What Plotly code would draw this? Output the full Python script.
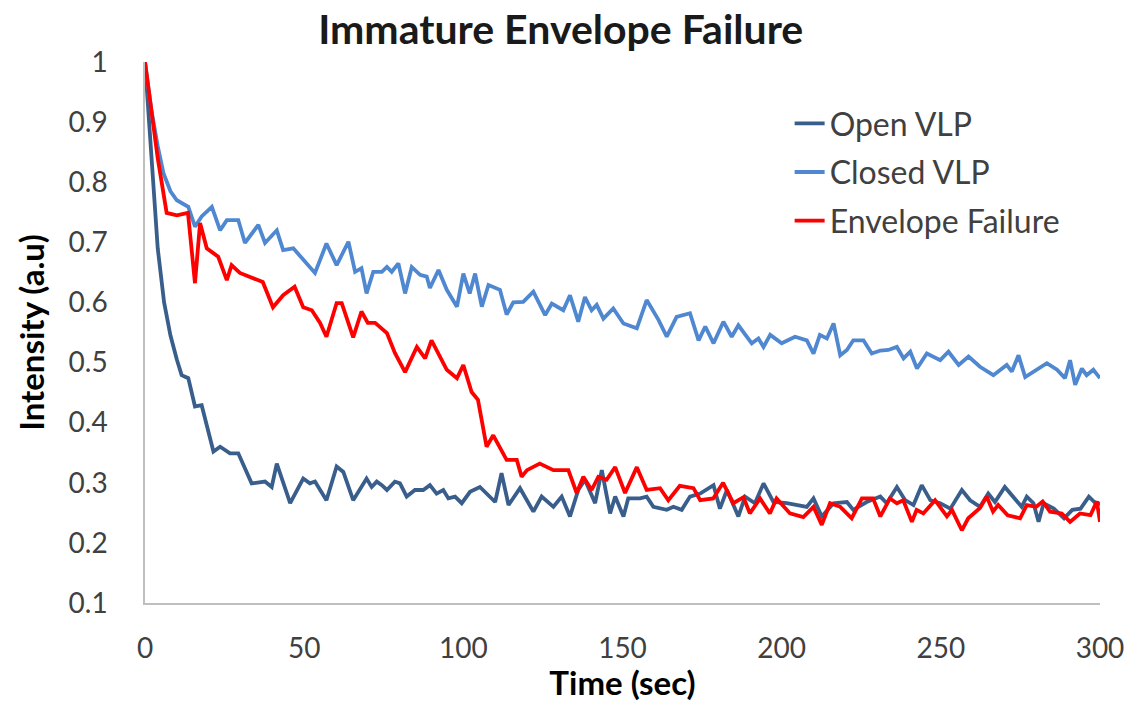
import plotly.graph_objects as go

# Fluorescence intensity traces (normalised) versus time in seconds
open_time = [0, 2, 4, 6, 8, 10, 11.5, 13.6, 15.7, 17.8, 21.5, 23.6, 26.7, 29.3, 33.5, 37.7, 39.8,
             41.4, 45.6, 49.7, 51.8, 53.4, 57, 60.2, 62.3, 65.4, 69.6, 71.2, 72.8, 74.4, 76, 78.5,
             80.1, 82.2, 84.8, 87.4, 89.5, 91.6, 93.7, 95.3, 97.4, 99.5, 102.1, 105.2, 107.3, 110,
             112, 114.2, 117.8, 122, 124.6, 128.3, 130.9, 133.5, 136.1, 138.2, 141.4, 143.5, 146.1,
             147.7, 150.3, 151.8, 155.5, 157.6, 159.7, 163.9, 166, 168.6, 171.2, 174.4, 178.6,
             180.6, 182.8, 186.4, 188.5, 191.6, 194.3, 197.4, 201.6, 207.9, 210, 212.6, 216.3,
             220.5, 222.5, 226.7, 231, 233, 236.2, 238.8, 241.4, 244, 246.7, 249.8, 253, 256.6,
             259.2, 262.3, 264.9, 267, 270.1, 272.7, 275.4, 277, 279.1, 280.7, 282.3, 285.5, 288.7,
             291.3, 293.9, 296.5, 299.2, 300]
open_vlp = [1.0, 0.84, 0.69, 0.6, 0.545, 0.505, 0.479, 0.474, 0.427, 0.429, 0.352, 0.36, 0.349,
            0.349, 0.299, 0.302, 0.293, 0.332, 0.266, 0.307, 0.299, 0.302, 0.271, 0.327, 0.318,
            0.271, 0.307, 0.293, 0.302, 0.296, 0.288, 0.302, 0.299, 0.277, 0.288, 0.288, 0.296,
            0.282, 0.288, 0.274, 0.277, 0.266, 0.285, 0.293, 0.282, 0.268, 0.316, 0.263, 0.291,
            0.252, 0.277, 0.26, 0.277, 0.244, 0.288, 0.305, 0.266, 0.321, 0.249, 0.277, 0.244,
            0.274, 0.274, 0.277, 0.26, 0.255, 0.26, 0.255, 0.277, 0.282, 0.296, 0.257, 0.288,
            0.244, 0.277, 0.266, 0.299, 0.268, 0.266, 0.26, 0.274, 0.244, 0.266, 0.268, 0.255,
            0.268, 0.277, 0.266, 0.293, 0.271, 0.263, 0.296, 0.271, 0.266, 0.257, 0.288, 0.271,
            0.26, 0.282, 0.268, 0.293, 0.277, 0.26, 0.277, 0.266, 0.235, 0.266, 0.257, 0.241,
            0.255, 0.257, 0.277, 0.263, 0.268]

closed_time = [0, 2, 4, 5.8, 8, 10, 13.6, 15.7, 17.8, 21, 23.6, 25.7, 29.3, 31.4, 35.6, 37.7,
               41.4, 43.4, 46.6, 53.4, 57, 60.2, 63.9, 66, 68, 69.6, 71.7, 74.4, 76, 77.5, 79.6,
               81.7, 83.8, 86.4, 88.5, 89.5, 92.2, 94.8, 98, 100, 102, 103.7, 105.8, 107.9,
               111.5, 113.6, 115.7, 118.8, 122, 125.7, 127.8, 131.4, 133.5, 136.1, 138.2, 140.3,
               141.9, 144, 147.1, 150.3, 154.5, 157.6, 161.3, 163.9, 167, 171.2, 173.9, 176,
               178.6, 181.7, 184.3, 186.4, 190.6, 192.7, 194.3, 196.4, 200, 204.2, 207.9, 210,
               212, 214.2, 216.3, 218.4, 220.5, 222.5, 225.7, 228.3, 231, 233.5, 236.2, 238.3,
               240.4, 242.5, 245.6, 249.8, 252.4, 255.6, 258.7, 262.3, 266.5, 268.6, 270.7,
               272.3, 274.4, 276.5, 279.1, 283.3, 286.5, 289, 290.6, 292.2, 294.3, 295.8, 297.9,
               300]
closed_vlp = [1.0, 0.92, 0.86, 0.815, 0.785, 0.77, 0.759, 0.726, 0.743, 0.759, 0.72, 0.737,
              0.737, 0.699, 0.729, 0.699, 0.72, 0.687, 0.69, 0.649, 0.698, 0.662, 0.701, 0.651,
              0.657, 0.615, 0.651, 0.651, 0.659, 0.651, 0.665, 0.615, 0.659, 0.646, 0.643, 0.624,
              0.654, 0.621, 0.593, 0.648, 0.615, 0.648, 0.593, 0.629, 0.621, 0.58, 0.6, 0.601,
              0.618, 0.579, 0.598, 0.587, 0.612, 0.568, 0.609, 0.587, 0.596, 0.573, 0.59, 0.565,
              0.557, 0.604, 0.571, 0.543, 0.576, 0.582, 0.537, 0.56, 0.532, 0.568, 0.543, 0.562,
              0.532, 0.54, 0.526, 0.546, 0.532, 0.543, 0.537, 0.515, 0.546, 0.54, 0.565, 0.512,
              0.521, 0.537, 0.537, 0.515, 0.52, 0.521, 0.526, 0.507, 0.518, 0.49, 0.515, 0.504,
              0.518, 0.496, 0.51, 0.493, 0.479, 0.488, 0.496, 0.485, 0.512, 0.476, 0.485, 0.499,
              0.488, 0.474, 0.504, 0.463, 0.49, 0.479, 0.488, 0.474]

failure_time = [0, 2, 4, 6.8, 10, 13.5, 15.7, 17.3, 19.4, 23, 25.7, 27.2, 29.8, 37, 40.2, 43.4,
                47, 49.7, 52.4, 55, 57, 60.2, 61.8, 65.4, 68, 70, 72.3, 76, 78.5, 81.7, 85.4, 88,
                90, 94.8, 98, 100, 102.6, 104.6, 107.3, 109.4, 113.6, 116.8, 118.3, 120, 124,
                128.3, 133, 135.6, 137.7, 140.3, 142.4, 145, 147.7, 150.8, 154.5, 157.6, 161.8,
                164.4, 168, 172.3, 174.4, 178.5, 181.6, 184.8, 188, 190, 193.2, 196.3, 198.4,
                202.6, 206.8, 210, 212.6, 215.2, 218.4, 222, 225.2, 228.7, 231, 234, 236.2, 238.2,
                240.9, 242.4, 244.5, 248.2, 251.9, 253.5, 256.6, 258.6, 262.3, 264.4, 266.4, 268,
                271, 274.9, 277, 280, 282, 284.3, 288, 290.6, 293.7, 297, 299, 300]
envelope_failure = [1.0, 0.92, 0.84, 0.749, 0.745, 0.749, 0.632, 0.732, 0.69, 0.676, 0.637, 0.662,
                    0.649, 0.634, 0.592, 0.612, 0.626, 0.592, 0.587, 0.566, 0.543, 0.599, 0.599,
                    0.542, 0.585, 0.566, 0.566, 0.549, 0.516, 0.484, 0.526, 0.507, 0.537, 0.488,
                    0.474, 0.496, 0.451, 0.438, 0.36, 0.379, 0.338, 0.338, 0.31, 0.321, 0.332,
                    0.321, 0.321, 0.283, 0.31, 0.288, 0.31, 0.305, 0.326, 0.283, 0.326, 0.288,
                    0.291, 0.271, 0.295, 0.291, 0.271, 0.274, 0.3, 0.266, 0.276, 0.249, 0.274,
                    0.249, 0.274, 0.249, 0.243, 0.26, 0.23, 0.266, 0.26, 0.241, 0.274, 0.274, 0.244,
                    0.274, 0.266, 0.271, 0.235, 0.255, 0.249, 0.271, 0.244, 0.255, 0.221, 0.241,
                    0.258, 0.277, 0.252, 0.263, 0.246, 0.241, 0.263, 0.26, 0.269, 0.252, 0.249,
                    0.235, 0.249, 0.246, 0.269, 0.235]

x_ticks = [0, 50, 100, 150, 200, 250, 300]
y_ticks = [0.1, 0.2, 0.3, 0.4, 0.5, 0.6, 0.7, 0.8, 0.9, 1.0]

FONT = "Lato"
series = [
    ("Open VLP", open_time, open_vlp, "#395E8C"),
    ("Closed VLP", closed_time, closed_vlp, "#4F88D0"),
    ("Envelope Failure", failure_time, envelope_failure, "#FF0000"),
]

fig = go.Figure()
for i, (name, t, v, color) in enumerate(series):
    fig.add_trace(go.Scatter(
        x=t, y=v, mode="lines", name=name, legendgroup=f"g{i}",
        line=dict(color=color, width=3.8),
    ))

fig.update_layout(
    width=1135, height=702, autosize=False,
    margin=dict(l=145, r=35, t=62, b=99),
    paper_bgcolor="white", plot_bgcolor="white",
    font=dict(family=FONT, color="#404040"),
    title=dict(
        text="<b>Immature Envelope Failure</b>",
        font=dict(family=FONT, size=41, color="#1A1A1A"),
        x=0.494, xanchor="center", y=0.958, yanchor="middle",
    ),
    legend=dict(
        x=0.675, y=0.937, xanchor="left", yanchor="top",
        font=dict(family=FONT, size=32, color="#404040"),
        bgcolor="rgba(0,0,0,0)", tracegroupgap=4,
    ),
    showlegend=True,
)

fig.update_xaxes(
    range=[0, 300], tickvals=x_ticks, ticktext=[str(v) for v in x_ticks],
    showgrid=False, zeroline=False, showline=True, linecolor="#BFBFBF", linewidth=1.5,
    ticks="", ticklabelstandoff=20, automargin=False,
    tickfont=dict(family=FONT, size=28, color="#404040"),
    title=dict(text="<b>Time (sec)</b>", font=dict(family=FONT, size=33, color="#000000"), standoff=10),
)
fig.update_yaxes(
    range=[0.1, 1.0], tickvals=y_ticks, ticktext=[f"{v:g}" for v in y_ticks],
    showgrid=False, zeroline=False, showline=True, linecolor="#BFBFBF", linewidth=1.5,
    ticks="", ticklabelstandoff=30, automargin=False,
    tickfont=dict(family=FONT, size=28, color="#404040"),
    title=dict(text="<b>Intensity (a.u)</b>", font=dict(family=FONT, size=33, color="#000000"), standoff=14),
)

fig.write_html("out.html")
